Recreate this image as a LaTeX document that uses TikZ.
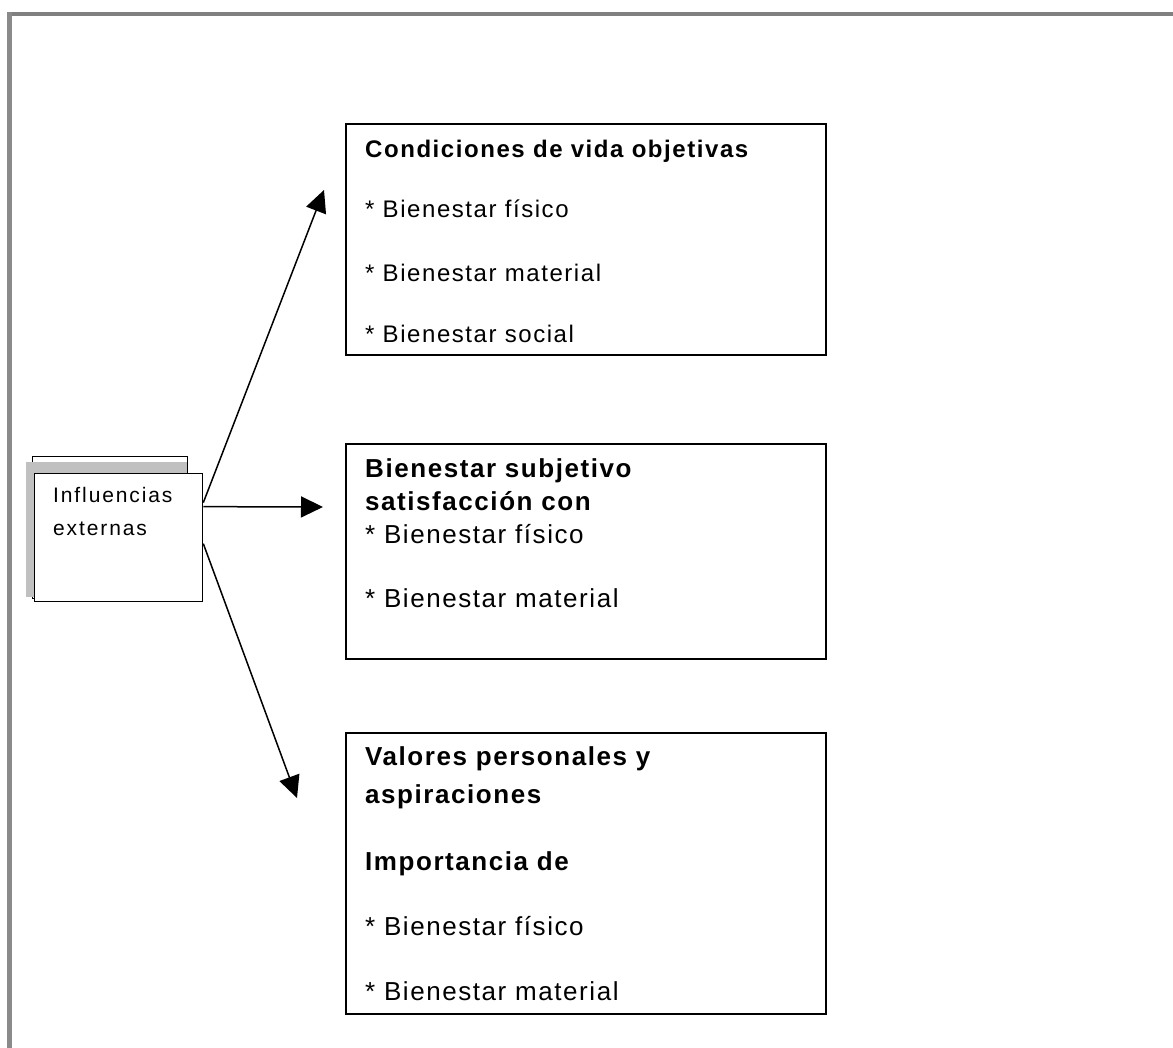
\documentclass[tikz,border=0pt]{standalone}
\usepackage{fontspec}
\setmainfont{Liberation Sans}
\newfontfamily\spacedA[LetterSpace=6.5]{Liberation Sans}
\newfontfamily\spacedB[LetterSpace=6]{Liberation Sans}
\newfontfamily\spacedC[LetterSpace=9]{Liberation Sans}
\usetikzlibrary{arrows.meta,calc}
\definecolor{framegray}{HTML}{808080}
\definecolor{shadowgray}{HTML}{C0C0C0}
\tikzset{
  panel/.style={draw=black, line width=1.6pt, fill=white, anchor=north west, inner sep=0pt},
  smalltxt/.style={anchor=base west, inner sep=0pt, font=\spacedA\fontsize{24}{28}\selectfont},
  smallbold/.style={anchor=base west, inner sep=0pt, font=\spacedA\bfseries\fontsize{24}{28}\selectfont},
  bigtxt/.style={anchor=base west, inner sep=0pt, font=\spacedB\fontsize{26}{30}\selectfont},
  bigbold/.style={anchor=base west, inner sep=0pt, font=\spacedB\bfseries\fontsize{26}{30}\selectfont},
  srctxt/.style={anchor=base west, inner sep=0pt, font=\spacedC\fontsize{21}{25}\selectfont},
  link/.style={line width=1.5pt, -{Triangle[length=22pt, width=21pt]}}
}
\begin{document}
\begin{tikzpicture}[x=1pt, y=-1pt]
  \useasboundingbox (0,0) rectangle (1173,1048);
  % page frame: top and left edges only
  \fill[framegray] (7,12) rectangle (1173,16);
  \fill[framegray!92] (7,12) rectangle (12,1048);

  % source box with its stacked backing sheet
  \filldraw[fill=white, draw=black, line width=1pt] (32,457) rectangle (187,598);
  \fill[shadowgray] (26,462) rectangle (187,597);
  \node[panel, line width=1.3pt, minimum width=168pt, minimum height=128pt] (src) at (34,473) {};
  \node[srctxt] (srcA) at (53,502) {Influencias};
  \node[srctxt] (srcB) at (53,535) {externas};

  % target boxes
  \node[panel, minimum width=480pt, minimum height=231pt] (obj) at (345,123) {};
  \node[panel, minimum width=480pt, minimum height=215pt] (subj) at (345,443) {};
  \node[panel, minimum width=480pt, minimum height=281pt] (val) at (345,732) {};

  % objective living conditions
  \node[smallbold] (objA) at (365,158) {Condiciones de vida objetivas};
  \node[smalltxt] (objB) at (365,218) {* Bienestar físico};
  \node[smalltxt] (objC) at (365,282) {* Bienestar material};
  \node[smalltxt] (objD) at (365,343) {* Bienestar social};

  % subjective well-being
  \node[bigbold] (subjA) at (365,477) {Bienestar subjetivo};
  \node[bigbold] (subjB) at (365,510) {satisfacción con};
  \node[bigtxt] (subjC) at (365,543) {* Bienestar físico};
  \node[bigtxt] (subjD) at (365,607) {* Bienestar material};

  % personal values
  \node[bigbold] (valA) at (365,765) {Valores personales y};
  \node[bigbold] (valB) at (365,803) {aspiraciones};
  \node[bigbold] (valC) at (365,870) {Importancia de};
  \node[bigtxt] (valD) at (365,935) {* Bienestar físico};
  \node[bigtxt] (valE) at (365,1000) {* Bienestar material};

  % arrow tips
  \coordinate (tipObj) at (324,190);
  \coordinate (tipSubj) at (323,507);
  \coordinate (tipVal) at (297,798);

  \draw[link] ([yshift=35pt]src.east) -- (tipObj);
  \draw[link] ([yshift=31pt]src.east) -- (tipSubj);
  \draw[link] ([yshift=-6pt]src.east) -- (tipVal);
\end{tikzpicture}
\end{document}
